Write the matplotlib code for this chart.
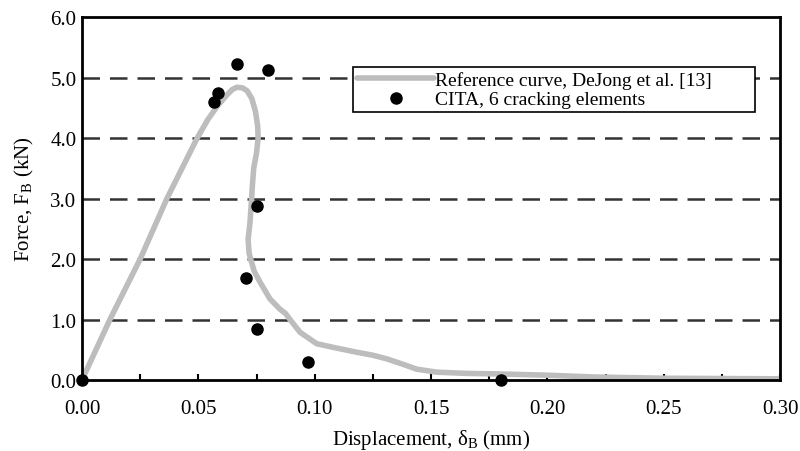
import numpy as np
import matplotlib.pyplot as plt

plt.rcParams['font.family'] = ['Liberation Serif', 'DejaVu Serif']
plt.rcParams['mathtext.fontset'] = 'custom'
plt.rcParams['mathtext.rm'] = 'Liberation Serif'

# reference curve (DeJong et al.)
ref_x = [0.0, 0.012, 0.025, 0.0365, 0.043, 0.0495, 0.054, 0.058, 0.062, 0.0645,
         0.0665, 0.069, 0.071, 0.073, 0.0745, 0.0755, 0.0757, 0.075, 0.0738, 0.0732,
         0.0729, 0.0722, 0.0714, 0.0718, 0.0725, 0.074, 0.0765, 0.0808, 0.0851, 0.0875,
         0.0894, 0.0937, 0.1009, 0.108, 0.118, 0.125, 0.131, 0.138, 0.1438, 0.1525,
         0.165, 0.18, 0.20, 0.22, 0.25, 0.30]
ref_y = [0.0, 1.00, 2.00, 3.00, 3.50, 4.00, 4.30, 4.52, 4.70, 4.80,
         4.84, 4.83, 4.78, 4.65, 4.45, 4.20, 4.00, 3.75, 3.50, 3.20,
         3.00, 2.60, 2.33, 2.10, 2.00, 1.80, 1.62, 1.34, 1.17, 1.10,
         1.00, 0.79, 0.60, 0.54, 0.46, 0.41, 0.35, 0.26, 0.18, 0.13,
         0.11, 0.10, 0.08, 0.05, 0.03, 0.02]

# CITA, 6 cracking elements
cita_x = [0.0, 0.0567, 0.0585, 0.0667, 0.080, 0.0751, 0.0705, 0.0751, 0.0972, 0.180]
cita_y = [0.0, 4.60, 4.74, 5.22, 5.12, 2.88, 1.69, 0.84, 0.30, 0.0]

fig = plt.figure(figsize=(8, 4.52), dpi=100)
ax = fig.add_axes([0.1025, 0.157, 0.8725, 0.803])

for g in [1, 2, 3, 4, 5]:
    ax.axhline(g, color='#333333', lw=1.8, dashes=(7, 4), zorder=1)

ax.plot(ref_x, ref_y, color='#bdbdbd', lw=4, solid_capstyle='round',
        solid_joinstyle='round', label='Reference curve, DeJong et al. [13]', zorder=2)
ax.plot(cita_x, cita_y, 'o', color='black', ms=8, clip_on=False,
        label='CITA, 6 cracking elements', zorder=3)

ax.set_xlim(0, 0.30)
ax.set_ylim(0, 6.0)
ax.set_xticks(np.arange(0, 0.301, 0.05))
ax.set_xticklabels(['%.2f' % v for v in np.arange(0, 0.301, 0.05)])
ax.set_xticks(np.arange(0.025, 0.3, 0.05), minor=True)
ax.set_yticks(np.arange(0, 6.01, 1.0))
ax.set_yticklabels(['%.1f' % v for v in np.arange(0, 6.01, 1.0)])
ax.tick_params(axis='x', which='both', direction='in', length=4, width=1.5,
               labelsize=15, pad=14)
ax.tick_params(axis='y', length=0, labelsize=15, pad=4)

for s in ax.spines.values():
    s.set_linewidth(2)

ax.set_xlabel(r'Displacement, $\mathregular{\delta_B}$ (mm)', fontsize=15, labelpad=6)
ax.set_ylabel(r'Force, F$_\mathregular{B}$ (kN)', fontsize=15, labelpad=10)

leg = ax.legend(loc='upper left', bbox_to_anchor=(0.388, 0.747, 0.576, 0.115),
                mode='expand', fontsize=14,
                frameon=True, fancybox=False, edgecolor='black', framealpha=1,
                borderpad=0.2, handlelength=4.0, handletextpad=0.05,
                labelspacing=0.1, borderaxespad=0)
leg.get_frame().set_linewidth(1.2)

fig.savefig('out.png', dpi=100)
